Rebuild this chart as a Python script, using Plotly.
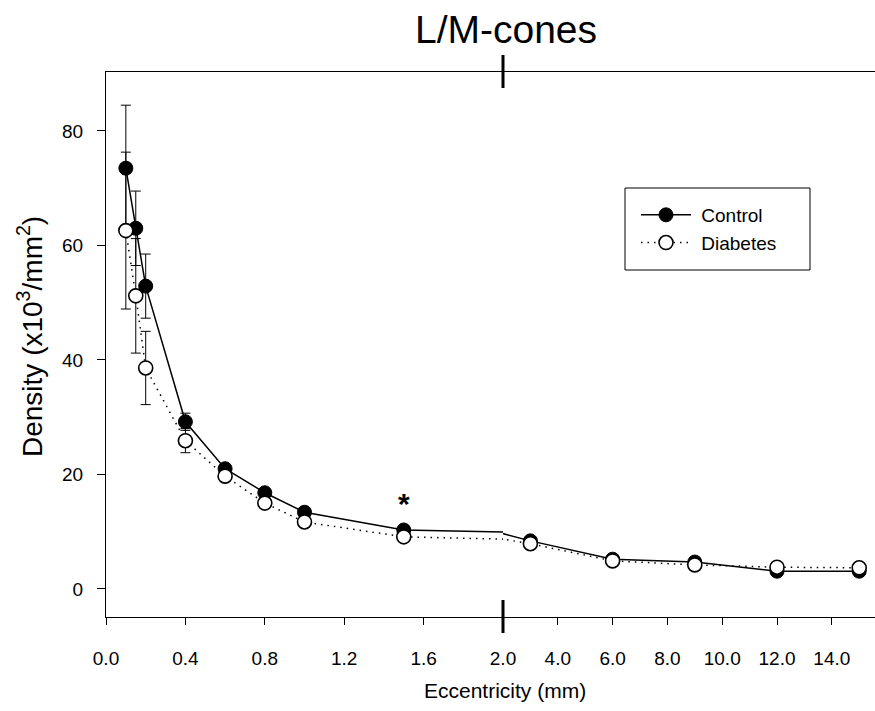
import plotly.graph_objects as go

ecc = [0.1, 0.15, 0.2, 0.4, 0.6, 0.8, 1.0, 1.5, 3.0, 6.0, 9.0, 12.0, 15.0]
control = [73.5, 63.0, 52.9, 29.2, 21.0, 16.8, 13.4, 10.3, 8.4, 5.2, 4.7, 3.1, 3.1]
control_err = [11.0, 6.5, 5.6, 1.5, 0.6, 0.5, 0.4, 0.4, 0.4, 0.3, 0.3, 0.3, 0.3]
diabetes = [62.6, 51.2, 38.6, 25.9, 19.7, 15.0, 11.7, 9.1, 7.9, 4.9, 4.2, 3.8, 3.7]
diabetes_err = [13.7, 10.0, 6.4, 2.1, 0.6, 0.5, 0.4, 0.4, 0.4, 0.3, 0.3, 0.3, 0.3]

left_ticks = [0.0, 0.4, 0.8, 1.2, 1.6, 2.0]
right_ticks = [4.0, 6.0, 8.0, 10.0, 12.0, 14.0]
y_ticks = [0, 20, 40, 60, 80]

FONT = "Liberation Sans, Arial, Helvetica, sans-serif"
W, H = 875, 711
ML, MR, MT, MB = 106, 0, 72, 94
plot_w = W - ML - MR
plot_h = H - MT - MB
split = 397 / plot_w  # fraction where axis breaks (at 2.0)

fig = go.Figure()

for xa, show in (("x", True), ("x2", False)):
    fig.add_trace(go.Scatter(
        x=ecc, y=control, xaxis=xa, yaxis="y", name=" Control", showlegend=show,
        mode="lines+markers",
        line=dict(color="black", width=1.5),
        marker=dict(symbol="circle", size=14, color="black", line=dict(color="black", width=1)),
        error_y=dict(type="data", array=control_err, visible=True, color="black", thickness=1, width=5),
    ))
for xa, show in (("x", True), ("x2", False)):
    fig.add_trace(go.Scatter(
        x=ecc, y=diabetes, xaxis=xa, yaxis="y", name=" Diabetes", showlegend=show,
        mode="lines+markers",
        line=dict(color="black", width=1.5, dash="1.5px,5px"),
        marker=dict(symbol="circle", size=14, color="white", line=dict(color="black", width=1.6)),
        error_y=dict(type="data", array=diabetes_err, visible=True, color="black", thickness=1, width=5),
    ))

axis_common = dict(
    showline=True, linecolor="black", linewidth=1.2, mirror=True,
    ticks="outside", ticklen=7, tickwidth=1, tickcolor="black",
    showgrid=False, zeroline=False, automargin=False, ticklabelstandoff=17,
    tickfont=dict(family=FONT, size=19, color="black"),
)

right_max = 2.0 + (plot_w - 397) / 27.4

fig.update_layout(
    width=W, height=H,
    margin=dict(l=ML, r=MR, t=MT, b=MB, autoexpand=False),
    paper_bgcolor="white", plot_bgcolor="white",
    title=dict(text="L/M-cones", x=(506) / W, xanchor="center", y=1 - 29 / H, yanchor="middle",
               font=dict(family="Liberation Sans Narrow, Arial Narrow, " + FONT, size=39, color="black")),
    xaxis=dict(domain=[0, split], range=[0, 2.0], tickvals=left_ticks, tickformat=".1f",
               anchor="y", **axis_common),
    xaxis2=dict(domain=[split, 1], range=[2.0, right_max], tickvals=right_ticks, tickformat=".1f",
                anchor="y", **axis_common),
    yaxis=dict(domain=[0, 1], range=[-4.9, 90.3], tickvals=y_ticks, anchor="x",
               showline=True, linecolor="black", linewidth=1.2, mirror=False,
               ticks="outside", ticklen=8, tickwidth=1, tickcolor="black",
               showgrid=False, zeroline=False, automargin=False, ticklabelstandoff=10,
               tickfont=dict(family=FONT, size=19, color="black")),
    legend=dict(x=(636 - ML) / plot_w, y=(H - MB - 196) / plot_h, xanchor="left", yanchor="top",
                borderwidth=0, bgcolor="rgba(0,0,0,0)",
                font=dict(family=FONT, size=19, color="black"),
                itemwidth=50, tracegroupgap=2),
    showlegend=True,
)

# legend frame
fig.add_shape(type="rect", xref="paper", yref="paper",
              x0=(625 - ML) / plot_w, x1=(810 - ML) / plot_w,
              y0=(H - MB - 270) / plot_h, y1=(H - MB - 188) / plot_h,
              line=dict(color="black", width=1), fillcolor="rgba(0,0,0,0)", layer="below")

# y-axis title
fig.add_annotation(text="Density (x10<sup>3</sup>/mm<sup>2</sup>)", xref="paper", yref="paper",
                   x=-(ML - 30) / plot_w, y=(H - MB - 337) / plot_h, xanchor="center", yanchor="middle",
                   textangle=-90, showarrow=False, font=dict(family=FONT, size=28, color="black"))

# x-axis title spanning the whole width
fig.add_annotation(text="Eccentricity (mm)", xref="paper", yref="paper",
                   x=(505 - ML) / plot_w, y=-(690 - (H - MB)) / plot_h, xanchor="center", yanchor="middle",
                   showarrow=False, font=dict(family=FONT, size=21, color="black"))

# significance asterisk
fig.add_annotation(text="<b>*</b>", x=1.5, y=control[ecc.index(1.5)], xref="x", yref="y",
                   yshift=26, showarrow=False, font=dict(family=FONT, size=30, color="black"))

# axis break marks
for y0, y1 in ((1 + 17 / plot_h, 1 - 16 / plot_h), (17 / plot_h, -16 / plot_h)):
    fig.add_shape(type="line", xref="paper", yref="paper", x0=split, x1=split, y0=y0, y1=y1,
                  line=dict(color="black", width=3))

fig.write_html("out.html")
